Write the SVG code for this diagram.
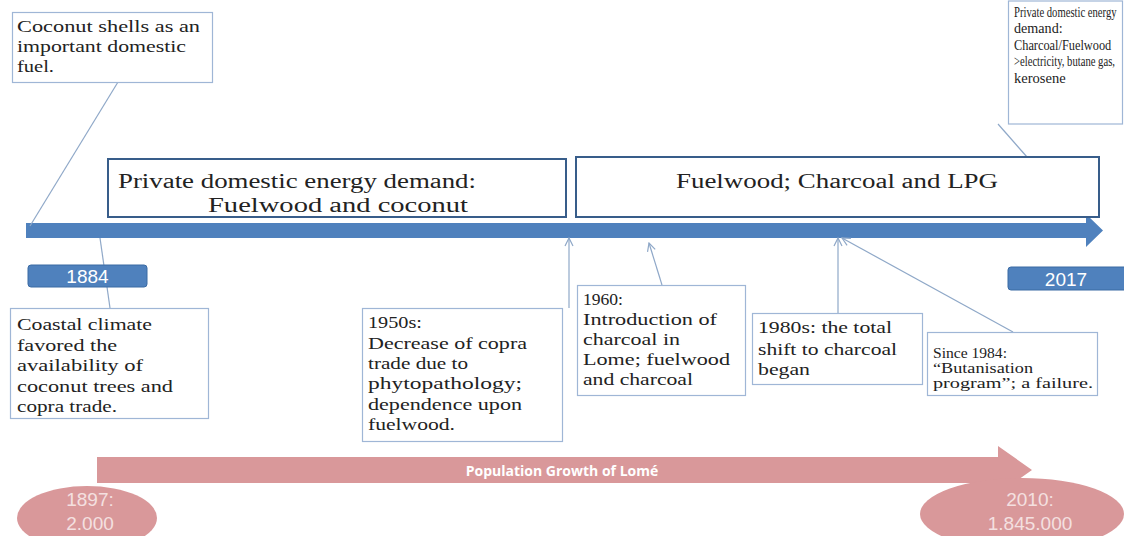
<svg xmlns="http://www.w3.org/2000/svg" width="1124" height="536" viewBox="0 0 1124 536">
<style>
.note{fill:#fff;stroke:#9fb6d6;stroke-width:1.2}
.big{fill:#fff;stroke:#385d8a;stroke-width:2}
.t{font-family:"Liberation Serif",serif;fill:#222}
.s{font-size:16px}
.b{font-size:20px}
.xs{font-size:14px}
.lbl{font-family:"Liberation Sans",Arial,sans-serif;font-size:19px;fill:#fff}
.pk{fill:#d9989a}
.pt{font-family:"Liberation Sans",Arial,sans-serif;font-size:19px;fill:#f4e0e0}
.c{stroke:#8fa8c8;stroke-width:1.2;fill:none}
</style>
<defs>
<marker id="ah" markerWidth="10" markerHeight="10" refX="9" refY="5" orient="auto" markerUnits="userSpaceOnUse">
<path d="M1,1 L9,5 L1,9" fill="none" stroke="#8fa8c8" stroke-width="1.2"/>
</marker>
</defs>
<rect width="1124" height="536" fill="#fff"/>

<g id="timeline">
<path d="M26,223 H1086 V214 L1103,230.5 L1086,247 V238 H26 Z" fill="#4f81bd"/>
</g>

<g id="connectors">
<line class="c" x1="118" y1="82" x2="30" y2="226"/>
<line class="c" x1="100" y1="238" x2="110" y2="308"/>
<line class="c" x1="569" y1="308" x2="569" y2="238" marker-end="url(#ah)"/>
<line class="c" x1="662" y1="285" x2="649" y2="243" marker-end="url(#ah)"/>
<line class="c" x1="838" y1="313" x2="838" y2="238" marker-end="url(#ah)"/>
<line class="c" x1="1013" y1="332" x2="842" y2="238" marker-end="url(#ah)"/>
<line class="c" x1="998" y1="124" x2="1027" y2="157"/>
</g>

<g id="n-coconut">
<rect class="note" x="12.5" y="12.5" width="200" height="70"/>
<text class="t s" x="17" y="32" textLength="183" lengthAdjust="spacingAndGlyphs">Coconut shells as an</text>
<text class="t s" x="17" y="52" textLength="169" lengthAdjust="spacingAndGlyphs">important domestic</text>
<text class="t s" x="17" y="72" textLength="37" lengthAdjust="spacingAndGlyphs">fuel.</text>
</g>

<g id="n-demand1">
<rect class="big" x="108" y="159" width="458" height="58"/>
<text class="t b" x="118" y="188" textLength="358" lengthAdjust="spacingAndGlyphs">Private domestic energy demand:</text>
<text class="t b" x="208" y="212" textLength="260" lengthAdjust="spacingAndGlyphs">Fuelwood and coconut</text>
</g>

<g id="n-demand2">
<rect class="big" x="576" y="157" width="523" height="60"/>
<text class="t b" x="676" y="188" textLength="322" lengthAdjust="spacingAndGlyphs">Fuelwood; Charcoal and LPG</text>
</g>

<g id="n-topright">
<rect class="note" x="1008.5" y="1" width="114" height="123"/>
<g transform="translate(1014,0) scale(0.76,1)">
<text class="t xs" x="0" y="17">Private domestic energy</text>
<text class="t xs" x="0" y="33" textLength="64" lengthAdjust="spacingAndGlyphs">demand:</text>
<text class="t xs" x="0" y="50" textLength="128" lengthAdjust="spacingAndGlyphs">Charcoal/Fuelwood</text>
<text class="t xs" x="0" y="66">&gt;electricity,  butane gas,</text>
<text class="t xs" x="0" y="83" textLength="68" lengthAdjust="spacingAndGlyphs">kerosene</text>
</g>
</g>

<g id="n-1884">
<rect x="28" y="265" width="119" height="22" rx="3" fill="#4f81bd" stroke="#3a6aa3"/>
<text class="lbl" x="87.5" y="283" text-anchor="middle">1884</text>
</g>

<g id="n-2017">
<rect x="1008" y="267" width="120" height="23" rx="3" fill="#4f81bd" stroke="#3a6aa3"/>
<text class="lbl" x="1066" y="286" text-anchor="middle">2017</text>
</g>

<g id="n-coastal">
<rect class="note" x="10.5" y="308.5" width="198" height="110"/>
<text class="t s" x="17" y="330" textLength="135" lengthAdjust="spacingAndGlyphs">Coastal  climate</text>
<text class="t s" x="17" y="351" textLength="100" lengthAdjust="spacingAndGlyphs">favored the</text>
<text class="t s" x="17" y="371" textLength="126" lengthAdjust="spacingAndGlyphs">availability  of</text>
<text class="t s" x="17" y="392" textLength="156" lengthAdjust="spacingAndGlyphs">coconut trees and</text>
<text class="t s" x="17" y="412" textLength="100" lengthAdjust="spacingAndGlyphs">copra trade.</text>
</g>

<g id="n-1950s">
<rect class="note" x="362.5" y="308.5" width="200" height="133"/>
<text class="t s" x="368" y="328" textLength="54" lengthAdjust="spacingAndGlyphs">1950s:</text>
<text class="t s" x="368" y="349" textLength="159" lengthAdjust="spacingAndGlyphs">Decrease  of copra</text>
<text class="t s" x="368" y="369" textLength="100" lengthAdjust="spacingAndGlyphs">trade due to</text>
<text class="t s" x="368" y="389" textLength="154" lengthAdjust="spacingAndGlyphs">phytopathology;</text>
<text class="t s" x="368" y="410" textLength="154" lengthAdjust="spacingAndGlyphs">dependence upon</text>
<text class="t s" x="368" y="430" textLength="87" lengthAdjust="spacingAndGlyphs">fuelwood.</text>
</g>

<g id="n-1960">
<rect class="note" x="577.5" y="285.5" width="168" height="110"/>
<text class="t s" x="583" y="305" textLength="40" lengthAdjust="spacingAndGlyphs">1960:</text>
<text class="t s" x="583" y="325" textLength="134" lengthAdjust="spacingAndGlyphs">Introduction of</text>
<text class="t s" x="583" y="345" textLength="97" lengthAdjust="spacingAndGlyphs">charcoal  in</text>
<text class="t s" x="583" y="365" textLength="147" lengthAdjust="spacingAndGlyphs">Lome;  fuelwood</text>
<text class="t s" x="583" y="385" textLength="110" lengthAdjust="spacingAndGlyphs">and  charcoal</text>
</g>

<g id="n-1980s">
<rect class="note" x="752.5" y="313.5" width="170" height="71"/>
<text class="t s" x="758" y="333" textLength="134" lengthAdjust="spacingAndGlyphs">1980s:  the total</text>
<text class="t s" x="758" y="355" textLength="139" lengthAdjust="spacingAndGlyphs">shift to charcoal</text>
<text class="t s" x="758" y="375" textLength="52" lengthAdjust="spacingAndGlyphs">began</text>
</g>

<g id="n-1984">
<rect class="note" x="927.5" y="332.5" width="170" height="63"/>
<text class="t xs" x="933" y="358" textLength="74" lengthAdjust="spacingAndGlyphs">Since 1984:</text>
<text class="t xs" x="933" y="373" textLength="100" lengthAdjust="spacingAndGlyphs">“Butanisation</text>
<text class="t xs" x="933" y="388" textLength="160" lengthAdjust="spacingAndGlyphs">program”; a failure.</text>
</g>

<g id="population">
<path class="pk" d="M97,457 H998 V446 L1032,470 L998,494 V483 H97 Z"/>
<text x="562" y="476" text-anchor="middle" font-family="'Open Sans','Liberation Sans',sans-serif" font-weight="bold" font-size="14" fill="#fff">Population Growth of Lomé</text>
</g>

<g id="n-1897">
<ellipse class="pk" cx="87" cy="518" rx="70" ry="32"/>
<text class="pt" x="90" y="506" text-anchor="middle">1897:</text>
<text class="pt" x="90" y="530" text-anchor="middle">2.000</text>
</g>

<g id="n-2010">
<ellipse class="pk" cx="1022" cy="514" rx="102" ry="36"/>
<text class="pt" x="1030" y="506" text-anchor="middle">2010:</text>
<text class="pt" x="1030" y="530" text-anchor="middle">1.845.000</text>
</g>
</svg>
